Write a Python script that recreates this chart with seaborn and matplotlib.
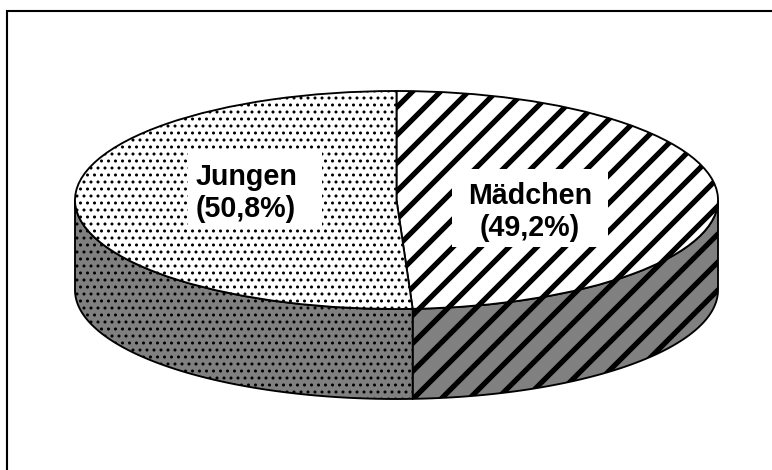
import numpy as np
import seaborn as sns
import matplotlib
matplotlib.use('Agg')
import matplotlib.pyplot as plt
from matplotlib.patches import Rectangle

# data
groups = ['Mädchen', 'Jungen']
shares = [49.2, 50.8]

sns.set_theme(style='white')
plt.rcParams['font.family'] = ['Liberation Sans', 'DejaVu Sans']

DPI = 84
W, H = 772, 471
fig = plt.figure(figsize=(W / DPI, H / DPI), dpi=DPI)
ax = fig.add_axes([0, 0, 1, 1])

# pixel -> data mapping (unit circle squashed into ellipse)
CX, CY, RX, RY = 396.5, 201.0, 321.5, 109.0
def px(x):
    return (x - CX) / RX
def py(y):
    return (CY - y) / RY

depth = 90 / RY
hatches = ['/', '..']
hatch_lw = [4.5, 1.4]
edge_lw = 1.6


def set_hlw(artist, lw):
    if hasattr(artist, 'set_hatch_linewidth'):
        artist.set_hatch_linewidth(lw)
    else:
        artist._hatch_linewidth = lw


# top face
with plt.rc_context({'hatch.linewidth': hatch_lw[0]}):
    wedges, _ = ax.pie(shares, startangle=90, counterclock=False,
                       colors=['white', 'white'], hatch=hatches,
                       wedgeprops=dict(edgecolor='black', linewidth=edge_lw, zorder=3))
for w, lw in zip(wedges, hatch_lw):
    set_hlw(w, lw)

# side walls (front half of the rim)
for w, h, lw in zip(wedges, hatches, hatch_lw):
    t1, t2 = w.theta1, w.theta2
    for k in (-360, 0, 360):
        lo, hi = max(t1, -180 + k), min(t2, k)
        if lo >= hi:
            continue
        t = np.radians(np.linspace(lo, hi, 200))
        xs = np.concatenate([np.cos(t), np.cos(t[::-1])])
        ys = np.concatenate([np.sin(t), np.sin(t[::-1]) - depth])
        with plt.rc_context({'hatch.linewidth': lw}):
            poly = ax.fill(xs, ys, facecolor='#808080', edgecolor='black',
                           hatch=h, linewidth=edge_lw, zorder=2)[0]
        set_hlw(poly, lw)

ax.set_aspect('auto')
ax.set_xlim(px(0), px(W))
ax.set_ylim(py(H), py(0))
ax.axis('off')

# labels with white boxes
boxes = [(452, 170, 608, 248), (188, 152, 322, 228)]
centers = [(530, 212), (246, 193)]
for name, share, (x0, y0, x1, y1), (tx, ty) in zip(groups, shares, boxes, centers):
    ax.add_patch(Rectangle((px(x0), py(y1)), px(x1) - px(x0), py(y0) - py(y1),
                           facecolor='white', edgecolor='none', zorder=4))
    txt = f"{name}\n({share:.1f}%)".replace('.', ',')
    ax.text(px(tx), py(ty), txt, ha='center', va='center', fontsize=24.5,
            fontweight='bold', color='black', linespacing=1.15, zorder=5)

# chart area border (cut off at right and bottom)
fig.add_artist(Rectangle((7 / W, -0.1), 1.2, 1.1 - 12 / H, transform=fig.transFigure,
                         fill=False, edgecolor='black', linewidth=1.8))

fig.savefig('out.png', dpi=DPI)
